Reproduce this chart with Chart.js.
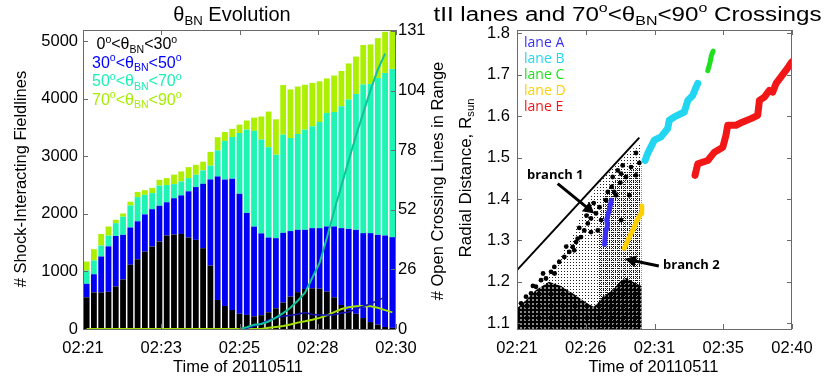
<!DOCTYPE html>
<html>
<head>
<meta charset="utf-8">
<script src="https://cdn.jsdelivr.net/npm/chart.js@4.4.0/dist/chart.umd.min.js"></script>
<style>
  html, body { margin: 0; padding: 0; background: #fff; }
  #wrap { position: relative; width: 830px; height: 383px; overflow: hidden; }
  #leftChart { position: absolute; left: 0; top: 0; }
  #rightChart { position: absolute; left: 425px; top: 0; }
</style>
</head>
<body>
<div id="wrap">
  <canvas id="leftChart" width="450" height="383"></canvas>
  <canvas id="rightChart" width="405" height="383"></canvas>
</div>
<script>
// ─────────────────────────────
// DATA - LEFT PANEL (theta_BN evolution)
// ─────────────────────────────
const bins = [1,2,3,4,5,6,7,8,9,10,11,12,13,14,15,16,17,18,19,20,21,22,23,24,25,26,27,28,29,30,31,32,33,34,35,36,37,38,39,40,41,42,43];

const cnt0to30 = [550,635,635,645,740,860,1115,1210,1345,1432,1519,1623,1640,1650,1588,1548,1403,1101,504,400,
    330,265,245,220,240,290,359,460,562,640,695,707,700,649,550,417,330,265,190,120,75,35,20];
const cnt30to50 = [235,316,624,790,875,775,647,660,645,648,621,577,630,670,802,916,1119,1496,2145,2195,
    2279,2083,1770,1558,1420,1298,1218,1210,1138,1082,1027,1044,1051,1131,1230,1334,1409,1457,1474,1544,1560,1588,1574];
const cnt50to70 = [229,239,190,185,223,315,383,420,340,280,350,300,246,242,230,214,232,238,452,670,
    724,1055,1446,1662,1630,1569,1449,1704,1616,1663,1739,1768,1843,1971,1988,2116,2244,2359,2579,2591,2724,2823,2922];
const cnt70to90 = [157,196,201,160,58,55,65,90,80,90,100,120,164,174,190,172,151,240,229,155,
    142,145,159,230,400,618,614,861,844,825,779,753,706,599,632,613,627,649,687,685,691,714,669];

// open crossing lines (right axis)
const openTeal = [null,null,null,null,null,null,null,null,null,null,null,null,null,null,null,null,null,null,null,null,null,
    0,0.8,1.9,2.2,3.3,5.0,7.0,9.3,12.4,16,22.5,29,40,52,63,74,85,95,105,114,121];
const openBlue = [null,null,null,null,null,null,null,null,null,null,null,null,null,null,null,null,null,null,null,null,null,
    0,0.3,1.2,2.5,4.0,5.0,5.6,6.0,6.5,7.2,6.4,6.2,6.2,6.3,7.0,7.5,8.8,10.0,11.0,12.6,14.0];
const openLime = [0,0,0,0,0,0,0,0,0,0,0,0,0,0,0,0,0,0,0,0,0,0,0,0,0,
    0.5,0.9,1.3,2.0,2.8,3.4,4.1,4.9,6.0,7.4,8.8,9.6,10.0,10.1,10.0,9.3,8.3,7.3];

const leftYTicks = [0,1000,2000,3000,4000,5000];
const leftYLabels = ['0','1000','2000','3000','4000','5000'];
const rightYTicks = [0,26.2,52.4,78.6,104.8,131];
const rightYLabels = ['0','26','52','78','104','131'];
const leftXTicks = [0,10.75,21.5,32.25,43];
const leftXLabels = ['02:21','02:23','02:25','02:28','02:30'];

// ─────────────────────────────
// DATA - RIGHT PANEL (minutes after 02:21, R_sun)
// ─────────────────────────────
const rightXTicks = [0,4.75,9.5,14.25,19];
const rightXLabels = ['02:21','02:26','02:31','02:35','02:40'];
const rightYTicksR = [1.1,1.2,1.3,1.4,1.5,1.6,1.7,1.8];
const rightYLabelsR = ['1.1','1.2','1.3','1.4','1.5','1.6','1.7','1.8'];

const lightCloud = [{x:0,y:1.086},{x:0,y:1.131},{x:0.97,y:1.156},{x:2.0,y:1.204},{x:3.04,y:1.264},{x:3.87,y:1.312},
    {x:4.42,y:1.361},{x:5.11,y:1.409},{x:5.81,y:1.445},{x:6.63,y:1.474},{x:7.53,y:1.506},{x:8.22,y:1.527},
    {x:8.6,y:1.535},{x:8.6,y:1.086}];
const mediumCloud = [{x:5.6,y:1.086},{x:5.6,y:1.30},{x:5.9,y:1.40},{x:6.6,y:1.44},{x:7.5,y:1.465},{x:8.6,y:1.48},{x:8.6,y:1.086}];
const denseCloud = [{x:0,y:1.086},{x:0,y:1.136},{x:0.62,y:1.156},{x:1.31,y:1.18},{x:2.21,y:1.2},{x:3.04,y:1.19},
    {x:3.87,y:1.172},{x:4.77,y:1.15},{x:5.3,y:1.14},{x:5.6,y:1.15},{x:5.94,y:1.165},{x:6.63,y:1.18},{x:7.1,y:1.2},
    {x:7.53,y:1.21},{x:8.0,y:1.2},{x:8.6,y:1.19},{x:8.6,y:1.086}];
const bigDots = [{x:0.28,y:1.148},{x:0.62,y:1.164},{x:0.97,y:1.172},{x:1.1,y:1.19},{x:1.31,y:1.188},{x:1.66,y:1.204},
    {x:1.8,y:1.22},{x:2.0,y:1.208},{x:2.35,y:1.224},{x:2.58,y:1.236},{x:2.6,y:1.22},{x:2.92,y:1.248},{x:3.27,y:1.26},
    {x:3.4,y:1.285},{x:3.61,y:1.272},{x:3.85,y:1.284},{x:3.96,y:1.276},{x:4.08,y:1.296},{x:4.19,y:1.304},{x:4.3,y:1.33},
    {x:4.42,y:1.308},{x:4.65,y:1.324},{x:4.8,y:1.36},{x:4.89,y:1.341},{x:5.11,y:1.32},{x:5.11,y:1.353},{x:5.3,y:1.39},
    {x:5.46,y:1.365},{x:5.58,y:1.324},{x:5.7,y:1.38},{x:5.81,y:1.349},{x:6.15,y:1.397},{x:6.27,y:1.417},{x:6.54,y:1.429},
    {x:6.61,y:1.453},{x:6.72,y:1.417},{x:6.84,y:1.409},{x:6.96,y:1.469},{x:7.14,y:1.439},{x:7.19,y:1.461},{x:7.19,y:1.349},
    {x:7.30,y:1.481},{x:7.53,y:1.453},{x:7.76,y:1.409},{x:7.88,y:1.477},{x:8.22,y:1.457},{x:8.22,y:1.511},{x:8.45,y:1.487}];

const laneA = [{x:6.05,y:1.29},{x:6.12,y:1.32},{x:6.25,y:1.335},{x:6.2,y:1.35},{x:6.35,y:1.37},{x:6.45,y:1.385},{x:6.52,y:1.397}];
const laneB = [{x:8.85,y:1.493},{x:9.03,y:1.51},{x:9.49,y:1.542},{x:9.95,y:1.55},{x:10.41,y:1.57},{x:10.52,y:1.59},
    {x:10.87,y:1.598},{x:11.56,y:1.61},{x:11.8,y:1.638},{x:12.14,y:1.65},{x:12.37,y:1.67},{x:12.49,y:1.679}];
const laneC = [{x:13.18,y:1.71},{x:13.34,y:1.73},{x:13.42,y:1.745},{x:13.55,y:1.757}];
const laneD = [{x:7.42,y:1.281},{x:7.76,y:1.308},{x:8.1,y:1.332},{x:8.29,y:1.349},{x:8.57,y:1.365},{x:8.62,y:1.383}];
const laneE = [{x:12.3,y:1.457},{x:12.49,y:1.485},{x:13.18,y:1.493},{x:13.64,y:1.513},{x:14.22,y:1.525},{x:14.44,y:1.554},
    {x:14.56,y:1.578},{x:15.13,y:1.578},{x:15.6,y:1.586},{x:16.17,y:1.594},{x:16.63,y:1.602},{x:16.75,y:1.638},
    {x:17.09,y:1.646},{x:17.44,y:1.662},{x:17.67,y:1.658},{x:17.9,y:1.679},{x:18.24,y:1.695},{x:18.59,y:1.711},{x:18.98,y:1.731}];
const shockFront = [{x:0,y:1.228},{x:8.45,y:1.548}];

const laneNames = ['lane A','lane B','lane C','lane D','lane E'];
const laneColors = ['#3a30f5','#22d6f2','#1ee01e','#ffd000','#f21616'];

const branchLabels = ['branch 1','branch 2'];
const branchTextPos = [[0.69,1.457],[10.09,1.24]];
const branchArrowTail = [[2.81,1.437],[9.8,1.238]];
const branchArrowHead = [[5.34,1.365],[7.46,1.255]];

// ─────────────────────────────
// HELPERS
// ─────────────────────────────
const FONT = '"Liberation Sans", Arial, Helvetica, sans-serif';
const FONT2 = '"Open Sans", "Liberation Sans", sans-serif';

function drawRich(ctx, parts, x, y, opt) {
    const size = opt.size, fam = opt.family || FONT, wt = opt.weight || '';
    const small = size * 0.66;
    ctx.save();
    ctx.translate(x, y);
    if (opt.rotate) ctx.rotate(opt.rotate);
    let w = 0;
    const runs = parts.map(p => {
        const s = p[1] ? small : size;
        ctx.font = wt + ' ' + s + 'px ' + fam;
        const pw = ctx.measureText(p[0]).width;
        w += pw;
        return { t: p[0], kind: p[1], s: s, pw: pw };
    });
    if (opt.width) ctx.scale(opt.width / w, 1);
    let cx = opt.align === 'center' ? -w / 2 : 0;
    ctx.fillStyle = opt.color || '#000';
    ctx.textBaseline = 'middle';
    runs.forEach(r => {
        ctx.font = wt + ' ' + r.s + 'px ' + fam;
        const dy = r.kind === 'sub' ? size * 0.3 : (r.kind === 'sup' ? -size * 0.33 : 0);
        ctx.fillText(r.t, cx, dy);
        cx += r.pw;
    });
    ctx.restore();
}

function fixTicks(vals) {
    return scale => { scale.ticks = vals.map(v => ({ value: v })); };
}

function drawFrame(ctx, a, yL, yR, xB) {
    ctx.save();
    ctx.strokeStyle = '#6a6a6a';
    ctx.lineWidth = 1;
    ctx.strokeRect(Math.round(a.left) + 0.5, Math.round(a.top) + 0.5,
        Math.round(a.right - a.left) - 1, Math.round(a.bottom - a.top));
    ctx.beginPath();
    yL.ticks.forEach(t => {
        const p = Math.round(yL.getPixelForValue(t.value)) + 0.5;
        ctx.moveTo(a.left, p); ctx.lineTo(a.left + 5, p);
        if (!yR) { ctx.moveTo(a.right, p); ctx.lineTo(a.right - 5, p); }
    });
    if (yR) yR.ticks.forEach(t => {
        const p = Math.round(yR.getPixelForValue(t.value)) + 0.5;
        ctx.moveTo(a.right, p); ctx.lineTo(a.right - 5, p);
    });
    xB.ticks.forEach(t => {
        const p = Math.round(xB.getPixelForValue(t.value)) + 0.5;
        ctx.moveTo(p, a.top); ctx.lineTo(p, a.top + 5);
        ctx.moveTo(p, a.bottom); ctx.lineTo(p, a.bottom - 5);
    });
    ctx.stroke();
    ctx.restore();
}

function makePattern(size, draw) {
    const c = document.createElement('canvas');
    c.width = size; c.height = size;
    draw(c.getContext('2d'));
    return c.getContext('2d').createPattern(c, 'repeat');
}

Chart.defaults.font.family = FONT;
Chart.defaults.color = '#000';

const tickFont = { size: 16.5, family: FONT };

// ─────────────────────────────
// LEFT CHART
// ─────────────────────────────
const leftDecor = {
    id: 'leftDecor',
    afterDraw(chart) {
        const ctx = chart.ctx, a = chart.chartArea;
        drawFrame(ctx, a, chart.scales.y, chart.scales.y1, chart.scales.xt);

        drawRich(ctx, [['θ'], ['BN', 'sub'], [' Evolution']], 232, 15, { size: 20, align: 'center' });

        const legendCols = ['#000000', '#0000ff', '#1ef0b2', '#a6ee00'];
        const legendRanges = [['0', '30'], ['30', '50'], ['50', '70'], ['70', '90']];
        const legendX = [96.5, 92, 92, 92];
        const legendY = [45, 63.5, 82, 100.5];
        legendRanges.forEach((r, i) => {
            drawRich(ctx, [[r[0]], ['o', 'sup'], ['<θ'], ['BN', 'sub'], ['<' + r[1]], ['o', 'sup']],
                legendX[i], legendY[i], { size: 16, color: legendCols[i] });
        });

        drawRich(ctx, [['# Shock-Interacting Fieldlines']], 21, 179, { size: 16.5, align: 'center', rotate: -Math.PI / 2 });
        drawRich(ctx, [['# Open Crossing Lines in Range']], 438, 181, { size: 16.5, align: 'center', rotate: -Math.PI / 2 });
        drawRich(ctx, [['Time of 20110511']], 238, 367, { size: 16.5, align: 'center' });
    }
};

new Chart(document.getElementById('leftChart'), {
    data: {
        labels: bins,
        datasets: [
            { type: 'line', data: openTeal, yAxisID: 'y1', borderColor: '#10c29a', borderWidth: 2, pointRadius: 0, tension: 0, order: 0 },
            { type: 'line', data: openBlue, yAxisID: 'y1', borderColor: '#1212b8', borderWidth: 1.5, pointRadius: 0, tension: 0, order: 0 },
            { type: 'line', data: openLime, yAxisID: 'y1', borderColor: '#a2e000', borderWidth: 2, pointRadius: 0, tension: 0, order: 0 },
            { type: 'bar', data: cnt0to30, yAxisID: 'y', backgroundColor: '#000000', order: 1 },
            { type: 'bar', data: cnt30to50, yAxisID: 'y', backgroundColor: '#0000f4', order: 1 },
            { type: 'bar', data: cnt50to70, yAxisID: 'y', backgroundColor: '#1ef5b5', order: 1 },
            { type: 'bar', data: cnt70to90, yAxisID: 'y', backgroundColor: '#acf000', order: 1 }
        ]
    },
    options: {
        responsive: false,
        animation: false,
        devicePixelRatio: 1,
        layout: { padding: { top: 30, left: 0, right: 0, bottom: 0 } },
        datasets: { bar: { categoryPercentage: 1, barPercentage: 0.8 } },
        plugins: { legend: { display: false }, tooltip: { enabled: false } },
        scales: {
            x: { type: 'category', display: false, stacked: true, offset: true },
            xt: {
                type: 'linear', position: 'bottom', min: 0, max: 43,
                afterBuildTicks: fixTicks(leftXTicks),
                afterFit: s => { s.height = 54; },
                grid: { display: false, drawTicks: false }, border: { display: false },
                ticks: { font: tickFont, padding: 10, maxRotation: 0, autoSkip: false, callback: (v, i) => leftXLabels[i] }
            },
            y: {
                type: 'linear', position: 'left', stacked: true, min: 0, max: 5191,
                afterBuildTicks: fixTicks(leftYTicks),
                afterFit: s => { s.width = 83; },
                grid: { display: false, drawTicks: false }, border: { display: false },
                ticks: { font: tickFont, padding: 5, callback: (v, i) => leftYLabels[i] }
            },
            y1: {
                type: 'linear', position: 'right', min: 0, max: 131.4,
                afterBuildTicks: fixTicks(rightYTicks),
                afterFit: s => { s.width = 54; },
                grid: { display: false, drawTicks: false }, border: { display: false },
                ticks: { font: tickFont, padding: 2, callback: (v, i) => rightYLabels[i] }
            }
        }
    },
    plugins: [leftDecor]
});

// ─────────────────────────────
// RIGHT CHART
// ─────────────────────────────
const lightPat = makePattern(3, g => { g.fillStyle = '#222'; g.fillRect(1, 1, 1, 1); });
const mediumPat = makePattern(2, g => { g.fillStyle = '#111'; g.fillRect(0, 0, 1, 1); });
const densePat = makePattern(4, g => {
    g.fillStyle = '#000';
    g.beginPath(); g.arc(2, 2, 2.1, 0, Math.PI * 2); g.fill();
});

const rightDecor = {
    id: 'rightDecor',
    afterDatasetsDraw(chart) {
        const ctx = chart.ctx, sx = chart.scales.x, sy = chart.scales.y;
        ctx.save();
        branchLabels.forEach((lab, i) => {
            const tx = sx.getPixelForValue(branchArrowTail[i][0]), ty = sy.getPixelForValue(branchArrowTail[i][1]);
            const hx = sx.getPixelForValue(branchArrowHead[i][0]), hy = sy.getPixelForValue(branchArrowHead[i][1]);
            const ang = Math.atan2(hy - ty, hx - tx);
            const hl = 11, hw = 6;
            ctx.strokeStyle = '#000'; ctx.fillStyle = '#000'; ctx.lineWidth = 3;
            ctx.beginPath();
            ctx.moveTo(tx, ty);
            ctx.lineTo(hx - Math.cos(ang) * hl * 0.8, hy - Math.sin(ang) * hl * 0.8);
            ctx.stroke();
            ctx.beginPath();
            ctx.moveTo(hx, hy);
            ctx.lineTo(hx - Math.cos(ang) * hl - Math.sin(ang) * hw, hy - Math.sin(ang) * hl + Math.cos(ang) * hw);
            ctx.lineTo(hx - Math.cos(ang) * hl + Math.sin(ang) * hw, hy - Math.sin(ang) * hl - Math.cos(ang) * hw);
            ctx.closePath();
            ctx.fill();
            drawRich(ctx, [[lab]], sx.getPixelForValue(branchTextPos[i][0]), sy.getPixelForValue(branchTextPos[i][1]),
                { size: 13, weight: 'bold', family: FONT2 });
        });
        ctx.restore();
    },
    afterDraw(chart) {
        const ctx = chart.ctx, a = chart.chartArea;
        drawFrame(ctx, a, chart.scales.y, null, chart.scales.x);

        drawRich(ctx, [['tII lanes and 70'], ['o', 'sup'], ['<θ'], ['BN', 'sub'], ['<90'], ['o', 'sup'], [' Crossings']],
            202.5, 15, { size: 20, align: 'center', width: 388 });

        laneNames.forEach((n, i) => {
            drawRich(ctx, [[n]], 99, 43.5 + i * 15.8, { size: 14, family: FONT2, color: laneColors[i] });
        });

        drawRich(ctx, [['Radial Distance, R'], ['sun', 'sub']], 41, 178, { size: 17, align: 'center', rotate: -Math.PI / 2 });
        drawRich(ctx, [['Time of 20110511']], 228.5, 367, { size: 16.5, align: 'center' });
    }
};

function laneSet(pts, col, w) {
    return { type: 'line', data: pts, borderColor: col, borderWidth: w, pointRadius: 0, tension: 0,
        borderCapStyle: 'round', borderJoinStyle: 'round', order: 2 };
}

new Chart(document.getElementById('rightChart'), {
    type: 'line',
    data: {
        datasets: [
            { type: 'line', data: shockFront, borderColor: '#000', borderWidth: 2, pointRadius: 0, order: 1 },
            laneSet(laneA, laneColors[0], 5),
            laneSet(laneB, laneColors[1], 7),
            laneSet(laneC, laneColors[2], 5),
            laneSet(laneD, laneColors[3], 5),
            laneSet(laneE, laneColors[4], 7),
            { type: 'scatter', data: bigDots, pointRadius: 2.4, backgroundColor: '#000', borderWidth: 0, order: 8 },
            { type: 'line', data: denseCloud, fill: 'shape', backgroundColor: densePat, borderWidth: 0, pointRadius: 0, tension: 0, order: 9 },
            { type: 'line', data: mediumCloud, fill: 'shape', backgroundColor: mediumPat, borderWidth: 0, pointRadius: 0, tension: 0, order: 10 },
            { type: 'line', data: lightCloud, fill: 'shape', backgroundColor: lightPat, borderWidth: 0, pointRadius: 0, tension: 0, order: 11 }
        ]
    },
    options: {
        responsive: false,
        animation: false,
        devicePixelRatio: 1,
        layout: { padding: { top: 30, left: 0, right: 38, bottom: 0 } },
        plugins: { legend: { display: false }, tooltip: { enabled: false } },
        scales: {
            x: {
                type: 'linear', position: 'bottom', min: 0, max: 19,
                afterBuildTicks: fixTicks(rightXTicks),
                afterFit: s => { s.height = 54; },
                grid: { display: false, drawTicks: false }, border: { display: false },
                ticks: { font: tickFont, padding: 10, maxRotation: 0, autoSkip: false, callback: (v, i) => rightXLabels[i] }
            },
            y: {
                type: 'linear', position: 'left', min: 1.086, max: 1.808,
                afterBuildTicks: fixTicks(rightYTicksR),
                afterFit: s => { s.width = 92; },
                grid: { display: false, drawTicks: false }, border: { display: false },
                ticks: { font: tickFont, padding: 7, callback: (v, i) => rightYLabelsR[i] }
            }
        }
    },
    plugins: [rightDecor]
});
</script>
</body>
</html>
